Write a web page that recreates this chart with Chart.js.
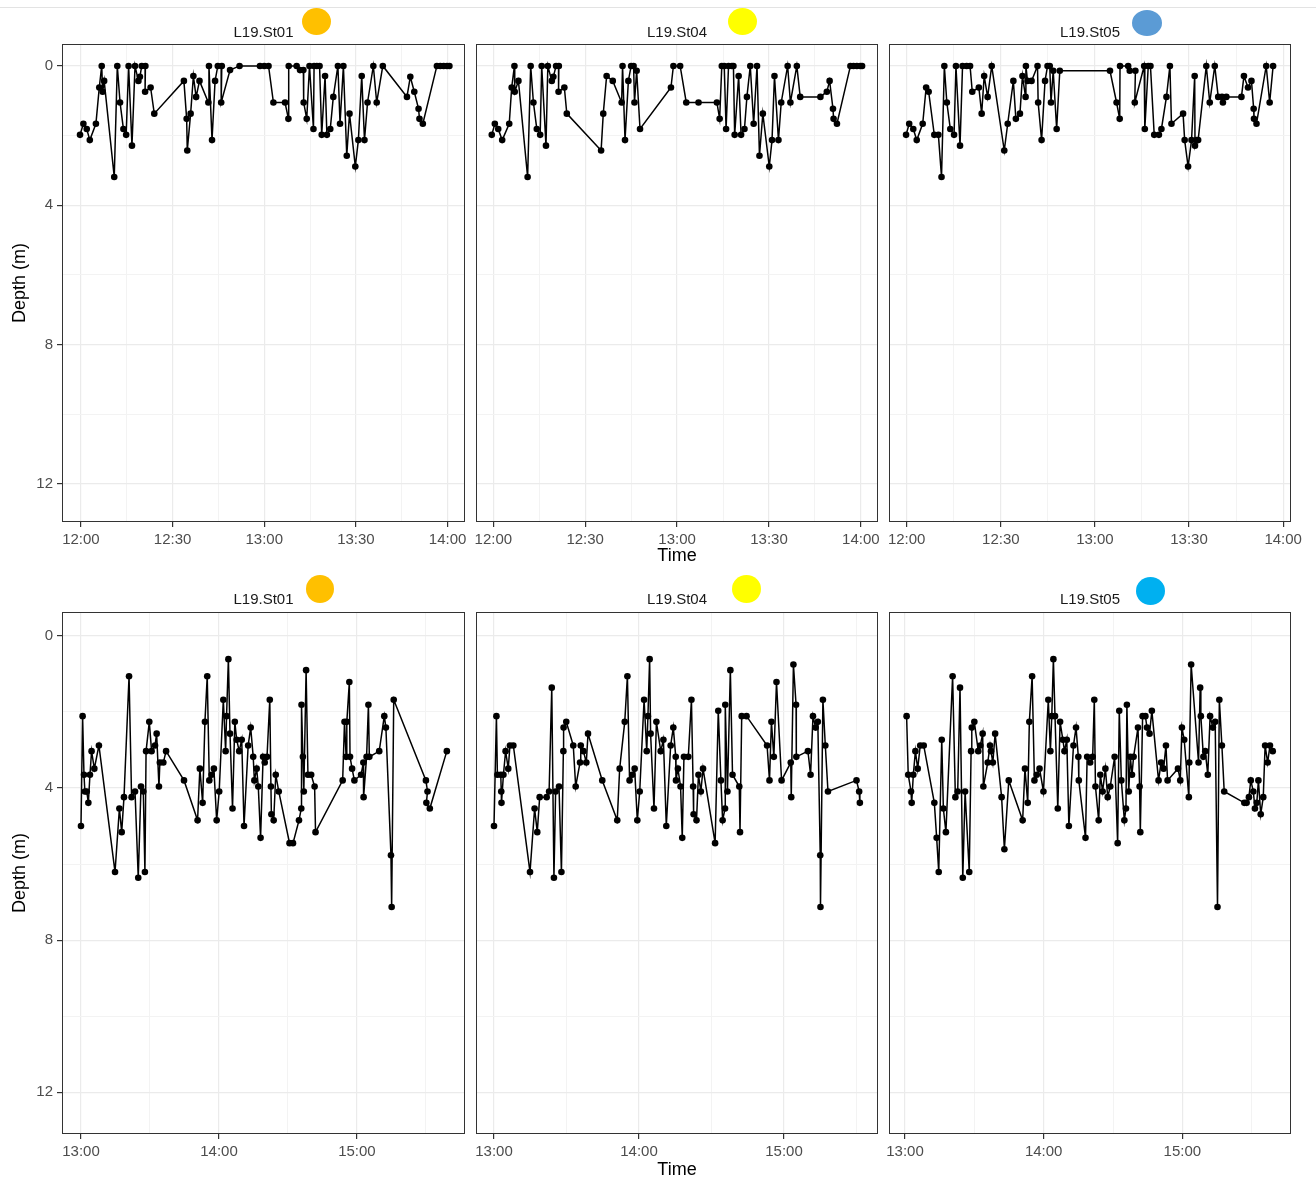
<!DOCTYPE html>
<html><head><meta charset="utf-8">
<script src="https://cdn.jsdelivr.net/npm/chart.js@4.4.1/dist/chart.umd.min.js"></script>
<style>
html,body{margin:0;padding:0;background:#fff;}
#page{position:relative;width:1316px;height:1181px;overflow:hidden;background:#fff;}
#page canvas{position:absolute;}
.dot{position:absolute;border-radius:50%;}
.topline{position:absolute;left:0;top:7px;width:1316px;height:1px;background:#e3e3e3;}
</style></head><body><div id="page"><div class="topline"></div></div>
<script>
// ---------- data (time in minutes after the row's first tick, depth in m) ----------
const stations = ["L19.St01", "L19.St04", "L19.St05"];
const topTickMin = [0, 30, 60, 90, 120];
const topTickLabels = ["12:00", "12:30", "13:00", "13:30", "14:00"];
const topMinorMin = [15, 45, 75, 105];
const bottomTickMin = [0, 60, 120];
const bottomTickLabels = ["13:00", "14:00", "15:00"];
const bottomMinorMin = [30, 90, 150];
const depthTicks = [0, 4, 8, 12];
const depthTickLabels = ["0", "4", "8", "12"];
const depthMinor = [2, 6, 10];

const top01Min = [-0.3,0.8,1.9,2.9,4.9,6.0,6.8,7.1,7.6,10.9, 11.9,12.8,13.9,14.8,15.6,16.7,17.7,18.8,19.3,19.9, 21.1,21.0,22.8,24.0,33.7,34.6,34.8,35.9,36.8,37.7, 38.8,41.7,41.9,42.9,43.9,44.8,46.1,45.9,48.8,51.9, 58.6,60.0,61.4,63.0,66.8,67.9,68.0,70.6,71.7,72.8, 72.9,73.9,74.8,76.1,76.3,77.2,78.1,78.8,79.9,80.5, 81.6,82.6,84.1,84.8,85.9,87.0,87.9,89.8,90.8,91.9, 92.8,93.8,95.7,96.8,98.8,106.7,107.8,109.1,110.5,110.8, 111.9,116.5,117.6,118.7,119.8,120.6];
const top01Depth = [1.98,1.66,1.81,2.13,1.66,0.62,0,0.74,0.43,3.19, 0,1.05,1.81,1.98,0,2.29,0,0.43,0.31,0, 0,0.74,0.62,1.37,0.43,1.52,2.43,1.37,0.29,0.89, 0.43,1.05,0,2.13,0.43,0,0,1.05,0.12,0, 0,0,0,1.05,1.05,1.52,0,0,0.12,0.12, 1.05,1.52,0,1.81,0,0,0,1.98,0.29,1.98, 1.81,0.89,0,1.66,0,2.58,1.37,2.89,2.13,0.29, 2.13,1.05,0,1.05,0,0.89,0.31,0.74,1.23,1.52, 1.66,0,0,0,0,0];

const top04Min = [-0.5,0.5,1.6,2.9,5.2,6.0,6.9,7.0,8.2,11.2, 12.2,13.1,14.2,15.3,15.8,17.2,17.8,19.1,19.6,20.5, 21.4,21.3,23.2,24.0,35.2,35.9,37.0,39.0,41.9,42.2, 43.0,44.1,45.0,45.8,46.1,46.8,47.9,58.0,58.8,61.0, 63.0,67.0,73.0,73.9,74.6,75.4,76.0,76.8,77.9,78.4, 78.8,80.1,80.9,82.0,82.8,83.9,85.0,86.1,86.9,88.0, 90.1,91.0,91.8,93.1,94.0,96.1,97.0,99.1,100.2,106.8, 108.9,109.8,110.9,111.1,112.2,116.6,117.6,118.7,119.8,120.4];
const top04Depth = [1.98,1.66,1.81,2.13,1.66,0.62,0,0.74,0.43,3.19, 0,1.05,1.81,1.98,0,2.29,0,0.43,0.31,0, 0,0.74,0.62,1.37,2.43,1.37,0.29,0.43,1.05,0, 2.13,0.43,0,0,1.05,0.14,1.81,0.62,0,0, 1.05,1.05,1.05,1.52,0,0,1.81,0,0,0, 1.98,0.29,1.98,1.81,0.89,0,1.66,0,2.58,1.37, 2.89,2.13,0.29,2.13,1.05,0,1.05,0,0.89,0.89, 0.74,0.43,1.23,1.52,1.66,0,0,0,0,0];

const top05Min = [-0.2,0.8,2.1,3.2,5.1,6.2,7.0,8.8,10.1,11.1, 12.0,12.8,13.9,15.1,15.7,17.0,17.8,19.1,20.2,20.9, 23.0,23.9,24.7,25.8,27.1,31.1,32.2,34.0,34.8,36.1, 36.9,37.9,38.0,38.5,39.8,41.7,41.9,43.0,44.1,44.9, 45.6,46.0,46.7,47.8,48.8,64.8,66.9,67.9,68.0,70.6, 71.1,72.9,72.7,75.7,75.9,77.0,77.7,78.9,80.4,81.2, 82.8,83.9,84.4,88.1,88.6,89.7,90.8,91.8,91.9,92.4, 92.9,95.5,96.6,98.2,99.3,100.5,100.8,101.9,106.7,107.5, 108.8,109.9,110.6,110.7,111.5,114.6,115.7,116.8];
const top05Depth = [1.98,1.66,1.81,2.13,1.66,0.62,0.74,1.98,1.98,3.19, 0,1.05,1.81,1.98,0,2.29,0,0,0,0.74, 0.62,1.37,0.29,0.89,0,2.43,1.66,0.43,1.52,1.37, 0.29,0.89,0,0.43,0.43,0,1.05,2.13,0.43,0, 0,1.05,0.14,1.81,0.14,0.14,1.05,1.52,0,0, 0.14,0.14,1.05,0,1.81,0,0,1.98,1.98,1.81, 0.89,0,1.66,1.37,2.13,2.89,2.13,0.29,2.29,2.13, 2.13,0,1.05,0,0.89,0.89,1.05,0.89,0.89,0.29, 0.62,0.43,1.23,1.52,1.66,0,1.05,0];

const bot01Min = [0,0.7,1.3,1.7,2.5,3.2,3.9,4.6,5.8,7.8, 14.8,16.7,17.7,18.7,20.9,22.0,23.5,24.9,26.1,27.1, 27.8,28.3,29.7,30.7,32.2,32.9,33.9,34.3,35.8,37.0, 44.8,50.7,51.7,52.9,53.9,54.9,55.8,56.8,57.8,59.0, 60.1,61.9,62.9,63.3,64.1,64.8,65.9,66.9,67.7,68.8, 69.9,70.9,72.7,73.8,74.9,75.4,76.4,77.1,78.1,79.2, 79.9,80.9,82.1,82.6,82.8,83.8,84.7,86.0,90.7,92.2, 94.8,95.8,95.9,96.5,96.9,97.9,98.7,100.1,101.6,102.0, 113.8,114.6,115.3,115.6,116.7,117.0,117.9,118.9,121.8,122.8, 122.9,124.2,125.0,125.4,129.7,131.9,132.6,134.8,135.1,136.0, 150.0,150.7,150.2,151.7,159.1];
const bot01Depth = [5.0,2.11,3.65,4.09,4.09,4.39,3.65,3.03,3.49,2.88, 6.21,4.54,5.16,4.24,1.06,4.24,4.09,6.36,3.96,4.09, 6.21,3.03,2.26,3.03,2.88,2.57,3.96,3.33,3.33,3.03, 3.8,4.85,3.49,4.39,2.26,1.06,3.8,3.65,3.49,4.85, 4.09,1.68,3.03,2.11,0.61,2.57,4.54,2.26,2.73,3.03, 2.73,5.0,2.88,2.41,3.18,3.8,3.49,3.96,5.31,3.18, 3.33,3.18,1.68,3.96,4.69,4.85,3.65,4.09,5.45,5.45, 4.85,4.54,1.81,3.18,4.09,0.9,3.65,3.65,3.96,5.16, 3.8,2.26,3.18,2.26,1.21,3.18,3.49,3.8,3.65,3.33, 4.24,3.18,1.81,3.18,3.03,2.11,2.41,5.77,7.13,1.68, 3.8,4.09,4.39,4.54,3.03];

const bot04Min = [0,1.0,1.4,2.8,3.0,3.1,3.9,4.8,5.9,6.6, 8.0,14.9,16.8,17.9,18.9,21.8,22.8,23.9,24.8,25.5, 26.9,27.9,28.7,28.8,29.9,32.8,33.8,35.6,35.9,37.0, 38.2,38.9,44.8,51.0,52.0,54.1,55.2,56.1,57.2,58.2, 59.3,60.3,62.1,63.2,63.7,64.4,64.8,66.2,67.2,69.0, 70.1,71.3,73.1,74.2,75.2,75.3,76.1,77.2,77.9,78.6, 80.4,81.7,82.4,82.6,83.8,84.6,85.6,86.5,91.5,92.8, 93.9,94.6,95.6,95.7,96.6,97.8,98.7,101.5,101.8,102.5, 104.5,113.0,114.0,114.8,115.8,116.9,119.0,122.8,123.0,123.9, 125.0,125.1,129.9,131.0,132.0,133.1,134.0,135.0,135.1,136.1, 137.1,138.2,150.0,151.1,151.4];
const bot04Depth = [5.0,2.11,3.65,3.65,4.09,4.39,3.65,3.03,3.49,2.88, 2.88,6.21,4.54,5.16,4.24,4.24,4.09,1.36,6.36,4.09, 3.96,6.21,3.03,2.41,2.26,2.88,3.96,3.33,2.88,3.03, 3.33,2.57,3.8,4.85,3.49,2.26,1.06,3.8,3.65,3.49, 4.85,4.09,1.68,3.03,2.11,0.61,2.57,4.54,2.26,3.03, 2.73,5.0,2.88,2.41,3.18,3.8,3.49,3.96,5.31,3.18, 3.18,1.68,3.96,4.69,4.85,3.65,4.09,3.49,5.45,1.97, 3.8,4.85,4.54,1.81,4.09,0.9,3.65,3.96,5.16,2.11, 2.11,2.88,3.8,2.26,3.18,1.21,3.8,3.33,4.24,0.75, 1.81,3.18,3.03,3.65,2.11,2.41,2.26,5.77,7.13,1.68, 2.88,4.09,3.8,4.09,4.39];

const bot05Min = [0.7,1.4,2.6,2.9,3.6,4.5,5.5,6.6,8.1,12.7, 13.7,14.6,15.9,16.6,17.7,20.6,21.8,22.8,23.8,25.0, 26.0,27.8,28.6,28.9,30.0,31.7,32.6,33.6,33.9,35.8, 36.8,37.2,38.0,39.0,41.8,43.0,44.9,50.9,51.9,53.1, 53.8,55.0,56.0,57.0,58.2,59.9,62.0,62.9,63.5,64.2, 64.9,66.1,67.1,68.3,69.0,70.0,70.9,72.9,74.0,75.0, 75.2,78.1,78.8,80.1,81.2,81.9,82.4,83.8,84.5,85.5, 86.7,87.7,88.8,90.7,92.0,92.7,93.6,94.9,95.6,96.0, 96.8,97.5,98.2,98.9,100.8,101.5,101.8,102.8,104.0,104.7, 105.8,106.8,109.7,110.8,111.9,112.9,113.6,118.1,119.1,119.8, 120.8,122.8,123.0,123.8,127.0,127.7,128.0,129.1,129.9,131.0, 132.0,133.2,134.2,135.2,136.0,137.1,138.1,146.8,147.8,148.8, 149.6,150.7,151.4,152.2,152.9,153.9,155.0,155.8,156.9,157.9, 159.1];
const bot05Depth = [2.11,3.65,4.09,4.39,3.65,3.03,3.49,2.88,2.88,4.39, 5.31,6.21,2.73,4.54,5.16,1.06,4.24,4.09,1.36,6.36, 4.09,6.21,3.03,2.41,2.26,3.03,2.88,2.57,3.96,3.33, 2.88,3.03,3.33,2.57,4.24,5.61,3.8,4.85,3.49,4.39, 2.26,1.06,3.8,3.65,3.49,4.09,1.68,3.03,2.11,0.61, 2.11,4.54,2.26,2.73,3.03,2.73,5.0,2.88,2.41,3.18, 3.8,5.31,3.18,3.33,3.18,1.68,3.96,4.85,3.65,4.09, 3.49,4.24,3.96,3.18,5.45,1.97,3.8,4.85,4.54,1.81, 4.09,3.18,3.65,3.18,2.41,3.96,5.16,2.11,2.11,2.41, 2.57,1.97,3.8,3.33,3.49,2.88,3.8,3.49,3.8,2.41, 2.73,4.24,3.33,0.75,3.33,1.36,2.11,3.18,3.03,3.65, 2.11,2.41,2.26,7.13,1.68,2.88,4.09,4.39,4.39,4.24, 3.8,4.09,4.54,4.39,3.8,4.69,4.24,2.88,3.33,2.88, 3.03];

// ---------- layout ----------
const FONT = "'Liberation Sans', Arial, Helvetica, sans-serif";
const MAJOR_GRID = '#EBEBEB', MINOR_GRID = '#F3F3F3';
const rows = {
  top:    { plotTop: 44,  plotBottom: 522,  titleY: 556,  stripOff: 11.5, ticks: topTickMin, labels: topTickLabels, minor: topMinorMin },
  bottom: { plotTop: 612, plotBottom: 1134, titleY: 1170, stripOff: 12.5, ticks: bottomTickMin, labels: bottomTickLabels, minor: bottomMinorMin }
};
const cols = [ { left: 62, right: 465 }, { left: 476, right: 878 }, { left: 889, right: 1291 } ];
const panels = [
  { row: 'top', col: 0, min: top01Min, depth: top01Depth, xMin: -6.2, xMax: 125.7 },
  { row: 'top', col: 1, min: top04Min, depth: top04Depth, xMin: -5.65, xMax: 125.6 },
  { row: 'top', col: 2, min: top05Min, depth: top05Depth, xMin: -5.64, xMax: 122.5 },
  { row: 'bottom', col: 0, min: bot01Min, depth: bot01Depth, xMin: -8.26, xMax: 167.0 },
  { row: 'bottom', col: 1, min: bot04Min, depth: bot04Depth, xMin: -7.45, xMax: 158.9 },
  { row: 'bottom', col: 2, min: bot05Min, depth: bot05Depth, xMin: -6.92, xMax: 167.0 }
];
const dots = [
  { x: 316, y: 21, w: 29, h: 27, c: '#FFC000' },
  { x: 742, y: 21.5, w: 29, h: 27, c: '#FFFF00' },
  { x: 1147, y: 23, w: 30, h: 26, c: '#5B9BD5' },
  { x: 320, y: 589, w: 28, h: 28, c: '#FFC000' },
  { x: 746.5, y: 589, w: 29, h: 28, c: '#FFFF00' },
  { x: 1150, y: 591, w: 29, h: 28, c: '#00B0F0' }
];

const page = document.getElementById('page');

const panelDecor = {
  id: 'panelDecor',
  afterDraw(chart, args, opts) {
    const { ctx, chartArea: a } = chart;
    ctx.save();
    ctx.strokeStyle = '#333333';
    ctx.lineWidth = 1;
    ctx.strokeRect(Math.round(a.left) + 0.5, Math.round(a.top) + 0.5, Math.round(a.right - a.left) - 1, Math.round(a.bottom - a.top) - 1);
    ctx.fillStyle = '#1A1A1A';
    ctx.font = '15px ' + FONT;
    ctx.textAlign = 'center';
    ctx.textBaseline = 'middle';
    ctx.fillText(opts.text, (a.left + a.right) / 2, a.top - opts.offset);
    ctx.restore();
  }
};

panels.forEach(p => {
  const r = rows[p.row], c = cols[p.col];
  const L = p.col === 0 ? 62 : 24, T = 40, R = 24;
  const B = Math.round(r.titleY + 15.8 - r.plotBottom);
  const plotW = c.right - c.left, plotH = r.plotBottom - r.plotTop;
  const cv = document.createElement('canvas');
  cv.width = plotW + L + R; cv.height = plotH + T + B;
  cv.style.left = (c.left - L) + 'px'; cv.style.top = (r.plotTop - T) + 'px';
  cv.style.width = cv.width + 'px'; cv.style.height = cv.height + 'px';
  page.appendChild(cv);

  const xAll = r.ticks.concat(r.minor).sort((a, b) => a - b);
  const yAll = depthTicks.concat(depthMinor).sort((a, b) => a - b);
  const pts = p.min.map((m, i) => ({ x: m, y: p.depth[i] }));

  new Chart(cv, {
    type: 'line',
    data: { datasets: [{
      data: pts, borderColor: '#000', borderWidth: 1.5, tension: 0,
      pointRadius: 3.3, pointHoverRadius: 3.3, pointBackgroundColor: '#000', pointBorderWidth: 0, fill: false
    }] },
    options: {
      responsive: false, animation: false, events: [],
      layout: { padding: { left: 0, top: T, right: R, bottom: 0 } },
      plugins: { legend: { display: false }, tooltip: { enabled: false }, title: { display: false },
        panelDecor: { text: stations[p.col], offset: r.stripOff } },
      scales: {
        x: {
          type: 'linear', position: 'bottom', min: p.xMin, max: p.xMax,
          afterBuildTicks: s => { s.ticks = xAll.map(v => ({ value: v })); },
          afterFit: s => { s.height = B; s.paddingLeft = 0; s.paddingRight = 0; },
          border: { display: false },
          grid: {
            color: g => r.ticks.includes(g.tick.value) ? MAJOR_GRID : MINOR_GRID,
            lineWidth: g => r.ticks.includes(g.tick.value) ? 1.2 : 1,
            tickColor: g => r.ticks.includes(g.tick.value) ? '#333333' : 'rgba(0,0,0,0)',
            drawTicks: true, tickLength: 5
          },
          ticks: {
            autoSkip: false, maxRotation: 0, padding: 4, color: '#4D4D4D',
            font: { family: FONT, size: 15 },
            callback: v => { const i = r.ticks.indexOf(v); return i >= 0 ? r.labels[i] : ''; }
          },
          title: { display: p.col === 1, text: 'Time', color: '#000', font: { family: FONT, size: 18 }, padding: { top: 0, bottom: 5 } }
        },
        y: {
          type: 'linear', position: 'left', reverse: true, min: -0.63, max: 13.1,
          afterBuildTicks: s => { s.ticks = yAll.map(v => ({ value: v })); },
          afterFit: s => { s.width = L; s.paddingTop = 0; s.paddingBottom = 0; },
          border: { display: false },
          grid: {
            color: g => depthTicks.includes(g.tick.value) ? MAJOR_GRID : MINOR_GRID,
            lineWidth: g => depthTicks.includes(g.tick.value) ? 1.2 : 1,
            tickColor: g => depthTicks.includes(g.tick.value) ? '#333333' : 'rgba(0,0,0,0)',
            drawTicks: p.col === 0, tickLength: 5
          },
          ticks: {
            display: p.col === 0, autoSkip: false, padding: 4, color: '#4D4D4D',
            font: { family: FONT, size: 15 },
            callback: v => { const i = depthTicks.indexOf(v); return i >= 0 ? depthTickLabels[i] : ''; }
          },
          title: { display: p.col === 0, text: 'Depth (m)', color: '#000', font: { family: FONT, size: 18 }, padding: { top: 9, bottom: 0 } }
        }
      }
    },
    plugins: [panelDecor]
  });
});

dots.forEach(d => {
  const el = document.createElement('div');
  el.className = 'dot';
  el.style.left = (d.x - d.w / 2) + 'px'; el.style.top = (d.y - d.h / 2) + 'px';
  el.style.width = d.w + 'px'; el.style.height = d.h + 'px';
  el.style.background = d.c;
  page.appendChild(el);
});
</script></body></html>
